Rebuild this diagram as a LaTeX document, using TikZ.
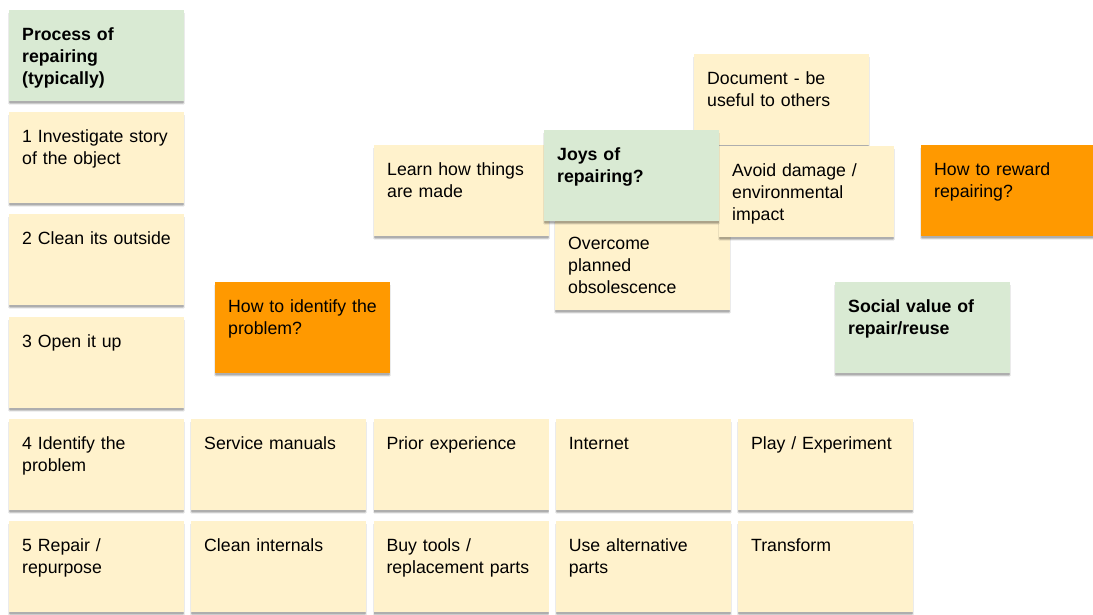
\documentclass[tikz,border=0pt]{standalone}
\usepackage{fontspec}
\setmainfont{Liberation Sans}
\usetikzlibrary{shadows}

\definecolor{noteyellow}{HTML}{FFF2CC}
\definecolor{notegreen}{HTML}{D9EAD3}
\definecolor{noteorange}{HTML}{FF9900}

\tikzset{
    % soft shadow built from a few stacked ones
    softshadow/.style={
        drop shadow={shadow xshift=0pt, shadow yshift=-4pt, fill=black, opacity=.06},
        drop shadow={shadow xshift=.8pt, shadow yshift=-2.5pt, fill=black, opacity=.08},
        drop shadow={shadow xshift=-.8pt, shadow yshift=-2.5pt, fill=black, opacity=.08},
        drop shadow={shadow xshift=0pt, shadow yshift=-1.5pt, fill=black, opacity=.15}},
    note/.style={anchor=north west, fill=noteyellow, softshadow,
        inner xsep=13pt, inner ysep=14pt,
        text width=149pt, text height=16pt, text depth=47pt, align=left,
        font=\fontsize{17.7}{22}\selectfont},
    title/.style={note, fill=notegreen, font=\fontsize{17.7}{22}\selectfont\bfseries},
    question/.style={note, fill=noteorange},
}

\begin{document}
\begin{tikzpicture}[x=1pt, y=-1pt]
    \useasboundingbox (0,0) rectangle (1093,615);

    % the steps, top to bottom
    \node[title] (process) at (9,10) {Process of\\repairing\\(typically)};
    \node[note] (step1) at (9,112) {1 Investigate story\\of the object};
    \node[note] (step2) at (9,214) {2 Clean its outside};
    \node[note] (step3) at (9,317) {3 Open it up};
    \node[note] (step4) at (9,419) {4 Identify the\\problem};
    \node[note] (step5) at (9,521) {5 Repair /\\repurpose};

    % ways to do steps 4 and 5
    \foreach \txt [count=\i] in {Service manuals, Prior experience, Internet, Play / Experiment} {
        \node[note] (ident\i) at (191+182.3*\i-182.3, 419) {\txt};
    }
    \foreach \txt [count=\i] in {Clean internals, {Buy tools /\\replacement parts}, {Use alternative\\parts}, Transform} {
        \node[note] (fix\i) at (191+182.3*\i-182.3, 521) {\txt};
    }

    \node[question] (identify) at (215,282) {How to identify the\\problem?};

    % joys cluster
    \node[note] (learn) at (374,145) {Learn how things\\are made};
    \node[note] (overcome) at (555,219) {Overcome\\planned\\obsolescence};
    \node[note] (document) at (694,54) {Document - be\\useful to others};
    \node[note] (avoid) at (719,146) {Avoid damage /\\environmental\\impact};
    \node[title] (joys) at (544,130) {Joys of\\repairing?};

    \node[question] (reward) at (921,145) {How to reward\\repairing?};
    \node[title] (social) at (835,282) {Social value of\\repair/reuse};
\end{tikzpicture}
\end{document}
